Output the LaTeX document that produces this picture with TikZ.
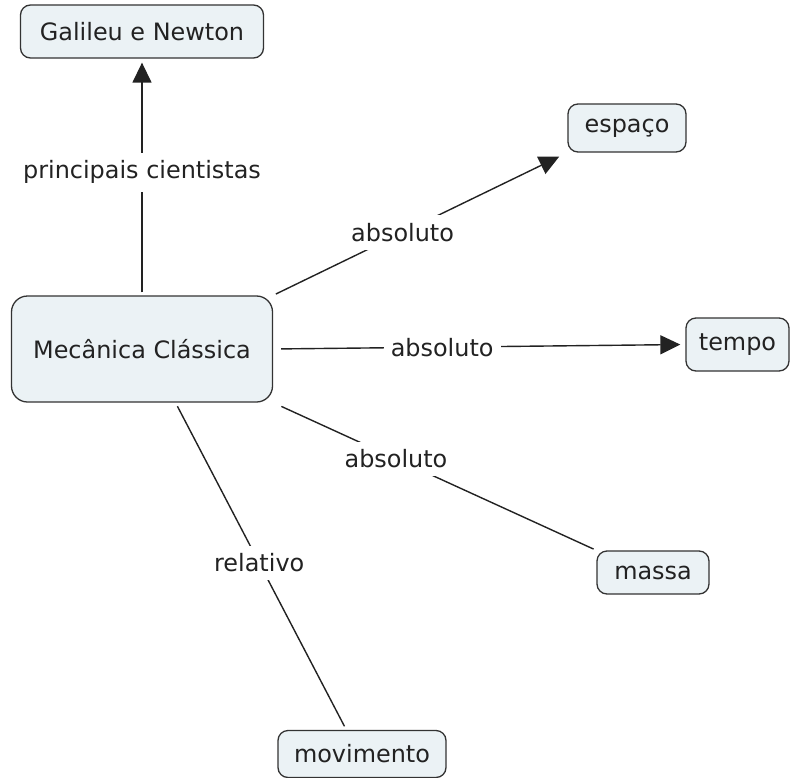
\documentclass[tikz,border=0pt]{standalone}
\usepackage{fontspec}
\setmainfont{DejaVu Sans}
\usetikzlibrary{arrows.meta}
\definecolor{boxfill}{HTML}{EBF2F5}
\definecolor{boxline}{HTML}{333333}
\definecolor{ink}{HTML}{222222}
\begin{document}
\begin{tikzpicture}[x=1bp,y=-1bp,
  concept/.style={draw=boxline, fill=boxfill, line width=1.3bp, rounded corners=10bp,
    inner sep=0pt, text=ink, font=\fontsize{24}{29}\selectfont},
  lbl/.style={fill=white, inner xsep=7bp, inner ysep=8bp, text=ink,
    font=\fontsize{24}{29}\selectfont},
  conn/.style={draw=ink, line width=1.4bp},
  tip/.style={-{Triangle[length=20bp,width=19bp]}}
]
\useasboundingbox (0,0) rectangle (790,778);
\node[concept, minimum width=243bp, minimum height=53bp] (gn) at (142,31.5) {Galileu e Newton};
\node[concept, minimum width=118bp, minimum height=48bp] (es) at (627,128) {espaço};
\node[concept, minimum width=103bp, minimum height=53bp] (te) at (737.5,344.5) {tempo};
\node[concept, minimum width=112bp, minimum height=43bp] (ma) at (653,572.5) {massa};
\node[concept, minimum width=168bp, minimum height=47bp] (mv) at (362,754) {movimento};
\node[concept, rounded corners=16bp, minimum width=261bp, minimum height=106bp] (mc) at (142,349) {Mecânica Clássica};

\draw[conn,tip,shorten <=3bp,shorten >=4bp] (mc.north) -- node[lbl,pos=0.52]{principais cientistas} (gn.south);
\draw[conn,tip,shorten <=3bp,shorten >=9bp] (mc.north east) -- node[lbl,pos=0.44]{absoluto} (es.south west);
\draw[conn,tip,shorten <=8bp,shorten >=5bp] (mc.east) -- node[lbl,pos=0.41]{absoluto} (te.west);
\draw[conn,shorten <=9bp,shorten >=3bp] (mc.south east) -- node[lbl,pos=0.38]{absoluto} (ma.north west);
\draw[conn,shorten <=4bp,shorten >=4bp] (mc.-58) -- node[lbl,pos=0.49]{relativo} (mv.123);
\end{tikzpicture}
\end{document}
